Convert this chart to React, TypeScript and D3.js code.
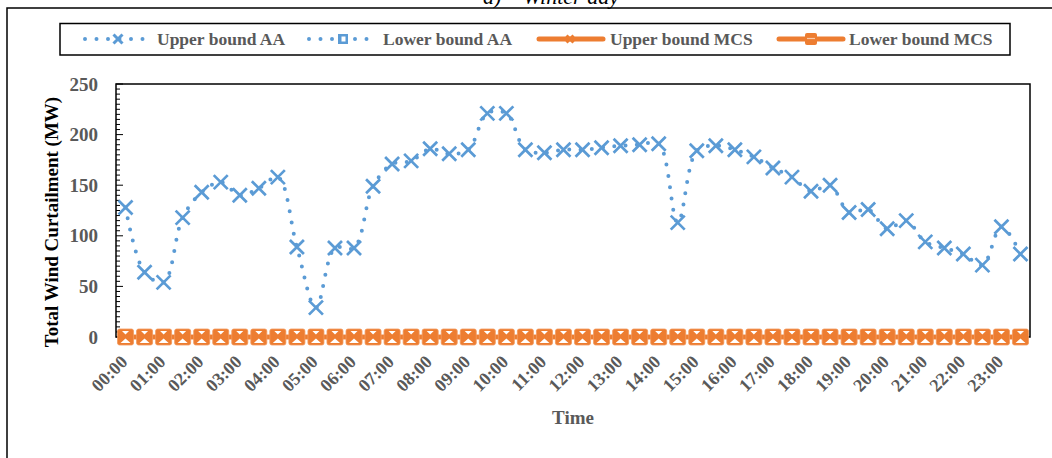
import React from "react";
import * as d3 from "d3";

// Half-hourly categories across the day
const times = [
  "00:00", "00:30", "01:00", "01:30", "02:00", "02:30", "03:00", "03:30",
  "04:00", "04:30", "05:00", "05:30", "06:00", "06:30", "07:00", "07:30",
  "08:00", "08:30", "09:00", "09:30", "10:00", "10:30", "11:00", "11:30",
  "12:00", "12:30", "13:00", "13:30", "14:00", "14:30", "15:00", "15:30",
  "16:00", "16:30", "17:00", "17:30", "18:00", "18:30", "19:00", "19:30",
  "20:00", "20:30", "21:00", "21:30", "22:00", "22:30", "23:00", "23:30",
];

// Labels shown on the time axis (every hour)
const hourLabels = [
  "00:00", "01:00", "02:00", "03:00", "04:00", "05:00", "06:00", "07:00",
  "08:00", "09:00", "10:00", "11:00", "12:00", "13:00", "14:00", "15:00",
  "16:00", "17:00", "18:00", "19:00", "20:00", "21:00", "22:00", "23:00",
];

// Total wind curtailment (MW)
const upperAA = [
  128, 64, 54, 118, 143, 153, 140, 147, 158, 89, 29, 88,
  88, 149, 171, 174, 186, 181, 185, 221, 221, 185, 182, 185,
  185, 187, 189, 190, 191, 113, 184, 189, 185, 178, 167, 158,
  144, 150, 123, 126, 107, 115, 94, 88, 82, 71, 109, 82,
];
const lowerAA = [
  0, 0, 0, 0, 0, 0, 0, 0, 0, 0, 0, 0,
  0, 0, 0, 0, 0, 0, 0, 0, 0, 0, 0, 0,
  0, 0, 0, 0, 0, 0, 0, 0, 0, 0, 0, 0,
  0, 0, 0, 0, 0, 0, 0, 0, 0, 0, 0, 0,
];
const upperMCS = [
  0, 0, 0, 0, 0, 0, 0, 0, 0, 0, 0, 0,
  0, 0, 0, 0, 0, 0, 0, 0, 0, 0, 0, 0,
  0, 0, 0, 0, 0, 0, 0, 0, 0, 0, 0, 0,
  0, 0, 0, 0, 0, 0, 0, 0, 0, 0, 0, 0,
];
const lowerMCS = [
  0, 0, 0, 0, 0, 0, 0, 0, 0, 0, 0, 0,
  0, 0, 0, 0, 0, 0, 0, 0, 0, 0, 0, 0,
  0, 0, 0, 0, 0, 0, 0, 0, 0, 0, 0, 0,
  0, 0, 0, 0, 0, 0, 0, 0, 0, 0, 0, 0,
];

const yTicks = [0, 50, 100, 150, 200, 250];

const BLUE = "#5B9BD5";
const ORANGE = "#ED7D31";
const GREY = "#595959";
const FONT = "'Liberation Serif', 'Times New Roman', serif";

const W = 1052;
const H = 458;
const plot = { left: 116, right: 1030, top: 84, bottom: 337 };

const xMark = (s: number) => `M${-s},${-s}L${s},${s}M${-s},${s}L${s},${-s}`;

export default function App() {
  const x = d3
    .scalePoint<string>()
    .domain(times)
    .range([plot.left, plot.right])
    .padding(0.5);
  const y = d3.scaleLinear().domain([0, 250]).range([plot.bottom, plot.top]);

  const smooth = d3
    .line<number>()
    .x((_, i) => x(times[i]) as number)
    .y((d) => y(d))
    .curve(d3.curveCatmullRom.alpha(0.5));
  const straight = d3
    .line<number>()
    .x((_, i) => x(times[i]) as number)
    .y((d) => y(d));

  const minorTicks = d3.range(0, 251, 5);

  return (
    <svg
      width={W}
      height={H}
      style={{ position: "absolute", left: 0, top: 0, background: "#fff" }}
      fontFamily={FONT}
    >
      {/* figure caption, clipped by the top edge */}
      <text x={483} y={4} fontSize={22} fontStyle="italic" fill="#000">
        a)
      </text>
      <text x={523} y={4} fontSize={22} fontStyle="italic" fill="#000">
        Winter day
      </text>

      {/* outer chart frame */}
      <rect x={7} y={8} width={1100} height={500} fill="none" stroke="#000" strokeWidth={1.5} />

      {/* legend */}
      <g>
        <rect x={60} y={23.5} width={950} height={31.5} fill="#fff" stroke="#000" strokeWidth={1.5} />
        {/* Upper bound AA */}
        <line x1={85} x2={147} y1={39} y2={39} stroke={BLUE} strokeWidth={4} strokeLinecap="round" strokeDasharray="0 11.5" />
        <path d={xMark(4.5)} transform="translate(118,39)" stroke={BLUE} strokeWidth={3} fill="none" />
        <text x={157} y={45} fontSize={17.5} fontWeight="bold" fill={GREY}>Upper bound AA</text>
        {/* Lower bound AA */}
        <line x1={309} x2={372} y1={39} y2={39} stroke={BLUE} strokeWidth={4} strokeLinecap="round" strokeDasharray="0 11.5" />
        <rect x={338} y={34} width={10} height={10} fill={BLUE} />
        <rect x={341.5} y={36.5} width={4} height={5} fill="#fff" />
        <text x={383} y={45} fontSize={17.5} fontWeight="bold" fill={GREY}>Lower bound AA</text>
        {/* Upper bound MCS */}
        <line x1={539} x2={603} y1={39} y2={39} stroke={ORANGE} strokeWidth={5} strokeLinecap="round" />
        <path d={xMark(3.5)} transform="translate(570,39)" stroke={ORANGE} strokeWidth={3} fill="none" />
        <text x={610} y={45} fontSize={17.5} fontWeight="bold" fill={GREY}>Upper bound MCS</text>
        {/* Lower bound MCS */}
        <line x1={779} x2={843} y1={39} y2={39} stroke={ORANGE} strokeWidth={5} strokeLinecap="round" />
        <rect x={805} y={33} width={12} height={12} rx={2} fill={ORANGE} />
        <line x1={807} x2={815} y1={38.5} y2={38.5} stroke="#f9c9a8" strokeWidth={1.2} />
        <text x={849} y={45} fontSize={17.5} fontWeight="bold" fill={GREY}>Lower bound MCS</text>
      </g>

      {/* plot frame */}
      <rect
        x={plot.left}
        y={plot.top}
        width={plot.right - plot.left}
        height={plot.bottom - plot.top}
        fill="none"
        stroke="#000"
        strokeWidth={1.5}
      />

      {/* y axis ticks */}
      {minorTicks.map((v) => (
        <line
          key={`m${v}`}
          x1={plot.left}
          x2={plot.left + (v % 50 === 0 ? 7 : 4)}
          y1={y(v)}
          y2={y(v)}
          stroke="#000"
          strokeWidth={1}
        />
      ))}
      {yTicks.map((v) => (
        <text
          key={`yt${v}`}
          x={98}
          y={y(v)}
          dy="0.35em"
          textAnchor="end"
          fontSize={19}
          fontWeight="bold"
          fill={GREY}
        >
          {v}
        </text>
      ))}

      {/* y axis title */}
      <text
        transform="translate(58,222) rotate(-90)"
        textAnchor="middle"
        fontSize={19}
        fontWeight="bold"
        fill="#000"
      >
        Total Wind Curtailment (MW)
      </text>

      {/* x axis labels */}
      {hourLabels.map((t) => (
        <text
          key={`xt${t}`}
          transform={`translate(${(x(t) as number) + 3},363) rotate(-45)`}
          textAnchor="end"
          fontSize={18}
          fontWeight="bold"
          fill={GREY}
        >
          {t}
        </text>
      ))}
      <text
        x={(plot.left + plot.right) / 2}
        y={424}
        textAnchor="middle"
        fontSize={19}
        fontWeight="bold"
        fill={GREY}
      >
        Time
      </text>

      {/* Upper bound AA */}
      <path
        d={smooth(upperAA) ?? ""}
        fill="none"
        stroke={BLUE}
        strokeWidth={4}
        strokeLinecap="round"
        strokeDasharray="0 11.3"
      />
      {upperAA.map((v, i) => (
        <path
          key={`ua${i}`}
          d={xMark(7)}
          transform={`translate(${x(times[i])},${y(v)})`}
          stroke={BLUE}
          strokeWidth={2.7}
          fill="none"
        />
      ))}

      {/* Lower bound AA */}
      <path
        d={smooth(lowerAA) ?? ""}
        fill="none"
        stroke={BLUE}
        strokeWidth={4}
        strokeLinecap="round"
        strokeDasharray="0 11.3"
      />
      {lowerAA.map((v, i) => (
        <rect
          key={`la${i}`}
          x={(x(times[i]) as number) - 5}
          y={y(v) - 5}
          width={10}
          height={10}
          fill={BLUE}
        />
      ))}

      {/* Upper bound MCS */}
      <path d={straight(upperMCS) ?? ""} fill="none" stroke={ORANGE} strokeWidth={4.5} />
      {upperMCS.map((v, i) => (
        <path
          key={`um${i}`}
          d={xMark(7)}
          transform={`translate(${x(times[i])},${y(v)})`}
          stroke={ORANGE}
          strokeWidth={3}
          fill="none"
        />
      ))}

      {/* Lower bound MCS */}
      <path d={straight(lowerMCS) ?? ""} fill="none" stroke={ORANGE} strokeWidth={4.5} />
      {lowerMCS.map((v, i) => (
        <g key={`lm${i}`} transform={`translate(${x(times[i])},${y(v)})`}>
          <rect x={-8} y={-8} width={16} height={16} rx={2} fill={ORANGE} stroke="#f29a5f" strokeWidth={0.8} />
          <path d="M-3.5,-6L3.5,-6L0,-2.5Z" fill="#fff" />
          <path d="M-5,6L5,6L0,1.5Z" fill="#fff" />
        </g>
      ))}
    </svg>
  );
}
